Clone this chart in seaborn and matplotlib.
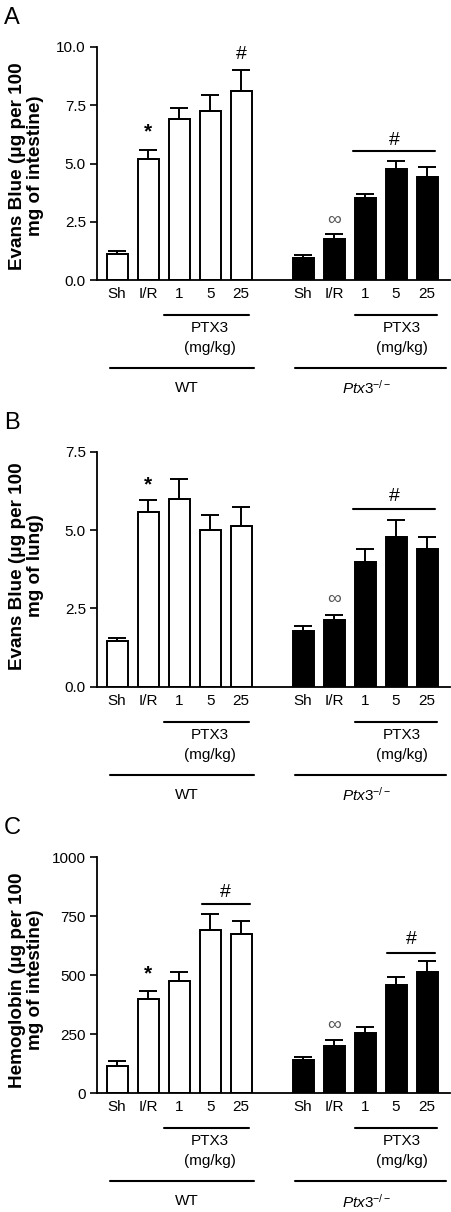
import numpy as np
import pandas as pd
import matplotlib
matplotlib.use('Agg')
import matplotlib.pyplot as plt
import matplotlib.transforms as mtrans
import seaborn as sns

# %% data
conditions = ['Sh', 'I/R', '1', '5', '25']
groups = ['WT', 'KO']
positions = {'WT': [0, 1, 2, 3, 4], 'KO': [6, 7, 8, 9, 10]}

evans_int_wt = [1.10, 5.21, 6.89, 7.26, 8.11]
evans_int_wt_sem = [0.16, 0.39, 0.51, 0.67, 0.89]
evans_int_ko = [0.96, 1.77, 3.54, 4.77, 4.43]
evans_int_ko_sem = [0.11, 0.19, 0.17, 0.34, 0.43]

evans_lung_wt = [1.47, 5.57, 5.99, 4.99, 5.14]
evans_lung_wt_sem = [0.09, 0.39, 0.63, 0.50, 0.59]
evans_lung_ko = [1.78, 2.14, 3.97, 4.79, 4.40]
evans_lung_ko_sem = [0.17, 0.15, 0.41, 0.54, 0.37]

hb_int_wt = [116, 398, 476, 691, 675]
hb_int_wt_sem = [20, 34, 40, 70, 57]
hb_int_ko = [140, 201, 256, 459, 516]
hb_int_ko_sem = [14, 26, 26, 34, 45]

sns.set_style('ticks')
plt.rcParams.update({
    'mathtext.fontset': 'custom',
    'mathtext.rm': 'Liberation Sans',
    'mathtext.it': 'Liberation Sans:italic',
    'text.color': 'black',
    'axes.labelcolor': 'black',
    'axes.edgecolor': 'black',
    'xtick.color': 'black',
    'ytick.color': 'black',
})
plt.rcParams['font.family'] = ['Liberation Sans', 'DejaVu Sans']

FIG_W, FIG_H = 452, 1212
fig = plt.figure(figsize=(FIG_W / 100, FIG_H / 100), dpi=100)

panels = [
    dict(letter='A', top=47, bottom=280, ylim=10.0, yticks=[0, 2.5, 5.0, 7.5, 10.0], fmt='{:.1f}',
         ylabel='Evans Blue (\u03bcg per 100\nmg of intestine)', label_y=0.49,
         wt=evans_int_wt, wt_e=evans_int_wt_sem, ko=evans_int_ko, ko_e=evans_int_ko_sem,
         star=6.36, inf=2.57,
         hashes=[(4, 9.66, None), (8.93, 6.0, (7.6, 10.26, 5.54))]),
    dict(letter='B', top=451.7, bottom=686.7, ylim=7.5, yticks=[0, 2.5, 5.0, 7.5], fmt='{:.1f}',
         ylabel='Evans Blue (\u03bcg per 100\nmg of lung)', label_y=0.514,
         wt=evans_lung_wt, wt_e=evans_lung_wt_sem, ko=evans_lung_ko, ko_e=evans_lung_ko_sem,
         star=6.44, inf=2.8,
         hashes=[(8.93, 6.06, (7.6, 10.26, 5.67))]),
    dict(letter='C', top=857.3, bottom=1093.3, ylim=1000, yticks=[0, 250, 500, 750, 1000], fmt='{:.0f}',
         ylabel='Hemoglobin (\u03bcg per 100\nmg of intestine)', label_y=0.48,
         wt=hb_int_wt, wt_e=hb_int_wt_sem, ko=hb_int_ko, ko_e=hb_int_ko_sem,
         star=508, inf=289,
         hashes=[(3.5, 850, (2.73, 4.29, 801)), (9.5, 650, (8.7, 10.26, 593))]),
]

AX_L, AX_R = 97, 450
for p in panels:
    h_px = p['bottom'] - p['top']
    ax = fig.add_axes([AX_L / FIG_W, (FIG_H - p['bottom']) / FIG_H,
                       (AX_R - AX_L) / FIG_W, h_px / FIG_H])

    df = pd.DataFrame({
        'pos': positions['WT'] + positions['KO'],
        'value': p['wt'] + p['ko'],
        'sem': p['wt_e'] + p['ko_e'],
        'group': ['WT'] * 5 + ['KO'] * 5,
    })
    sns.barplot(data=df, x='pos', y='value', hue='group', native_scale=True, dodge=False,
                palette={'WT': 'white', 'KO': 'black'}, width=0.68, edgecolor='black',
                linewidth=1.4, errorbar=None, legend=False, ax=ax)
    ax.errorbar(df['pos'], df['value'], yerr=[np.zeros(len(df)), df['sem']], fmt='none',
                ecolor='black', elinewidth=1.4, capsize=6.5, capthick=1.4, zorder=1)

    ax.set_xlim(-0.65, 10.74)
    ax.set_ylim(0, p['ylim'])
    ax.set_yticks(p['yticks'], [p['fmt'].format(t) for t in p['yticks']])
    ax.set_xticks(df['pos'], conditions * 2)
    ax.tick_params(axis='x', length=0, labelsize=11, pad=5)
    ax.tick_params(axis='y', length=5, width=1.2, labelsize=11, pad=3)
    ax.set_xlabel('')
    ax.set_ylabel(p['ylabel'], fontsize=13.6, fontweight='bold', linespacing=1.05)
    ax.yaxis.set_label_coords(-0.15, p['label_y'])
    sns.despine(ax=ax)
    for s in ['left', 'bottom']:
        ax.spines[s].set_linewidth(1.3)

    # significance marks
    ax.text(1, p['star'], '*', ha='center', va='center', fontsize=15, fontweight='bold')
    ax.text(7, p['inf'], '\u221e', ha='center', va='center', fontsize=14, color='#555555')
    for hx, hy, line in p['hashes']:
        ax.text(hx, hy, '#', ha='center', va='center', fontsize=14)
        if line:
            ax.plot([line[0], line[1]], [line[2], line[2]], color='black', lw=1.5, clip_on=False)

    # group annotations below the axis (pixel offsets)
    base = mtrans.blended_transform_factory(ax.transData, ax.transAxes)

    def below(px):
        return base + mtrans.ScaledTranslation(0, -px / 100, fig.dpi_scale_trans)

    for x0, x1 in [(1.52, 4.26), (7.68, 10.32)]:
        ax.plot([x0, x1], [0, 0], color='black', lw=1.5, clip_on=False, transform=below(35))
    for xc in [3.0, 9.2]:
        ax.text(xc, 0, 'PTX3', ha='center', va='center', fontsize=11, transform=below(48))
        ax.text(xc, 0, '(mg/kg)', ha='center', va='center', fontsize=11, transform=below(68))
    for x0, x1 in [(-0.23, 4.42), (5.74, 10.6)]:
        ax.plot([x0, x1], [0, 0], color='black', lw=1.5, clip_on=False, transform=below(88))
    ax.text(2.25, 0, 'WT', ha='center', va='center', fontsize=11, transform=below(108))
    ax.text(8.06, 0, r'$\mathit{Ptx3}^{\mathrm{-/-}}$', ha='center', va='center', fontsize=11,
            transform=below(108))

    fig.text(4 / FIG_W, 1 - (p['top'] - 40) / FIG_H, p['letter'], ha='left', va='top', fontsize=17)

fig.savefig('out.png', dpi=100, facecolor='white')
